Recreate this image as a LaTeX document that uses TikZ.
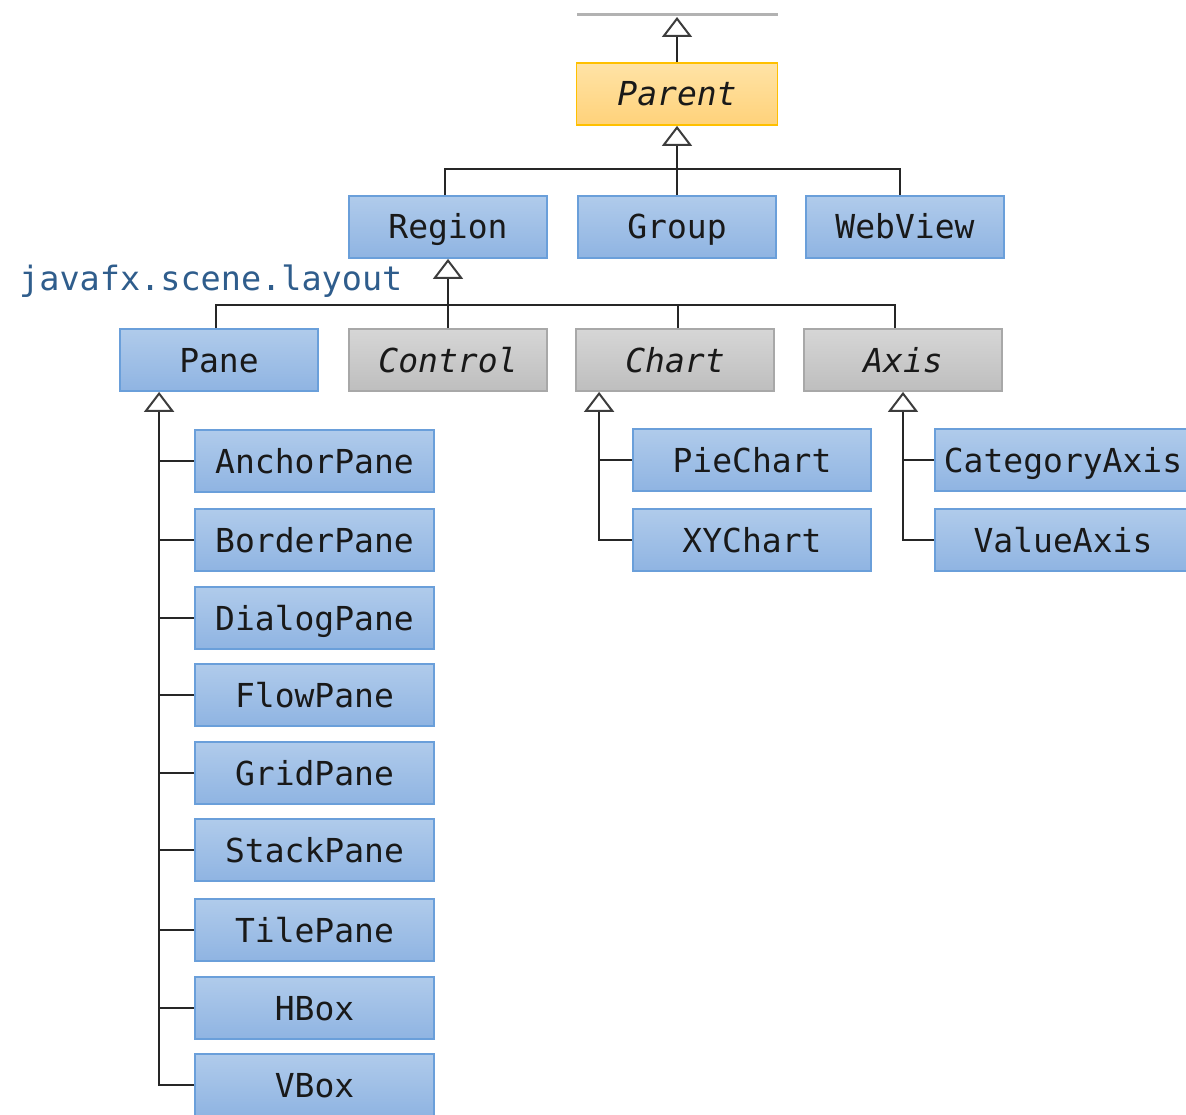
\documentclass[tikz,border=0pt]{standalone}
\usepackage{fontspec}
\setmonofont{DejaVu Sans Mono}
\usetikzlibrary{arrows.meta}
\definecolor{bluefillA}{HTML}{B0CBEB}
\definecolor{bluefillB}{HTML}{8FB4E2}
\definecolor{blueline}{HTML}{6A9FDA}
\definecolor{yelfillA}{HTML}{FFE3A6}
\definecolor{yelfillB}{HTML}{FFD27A}
\definecolor{yelline}{HTML}{FFC000}
\definecolor{grayfillA}{HTML}{D6D6D6}
\definecolor{grayfillB}{HTML}{BEBEBE}
\definecolor{grayline}{HTML}{A8A8A8}
\definecolor{pkgcol}{HTML}{2F5D8C}
\definecolor{tipcol}{HTML}{3C3C3C}
\tikzset{
  cls/.style={rectangle, inner sep=0pt, minimum height=62pt, line width=1.8pt,
    text height=24pt, text depth=0pt,
    font=\ttfamily\fontsize{33}{36}\selectfont, text=black!90},
  bluebox/.style={cls, draw=blueline, top color=bluefillA, bottom color=bluefillB},
  yelbox/.style={cls, draw=yelline, top color=yelfillA, bottom color=yelfillB,
    font=\ttfamily\itshape\fontsize{33}{36}\selectfont},
  graybox/.style={cls, draw=grayline, top color=grayfillA, bottom color=grayfillB,
    font=\ttfamily\itshape\fontsize{33}{36}\selectfont},
  conn/.style={line width=2pt, black!85},
  inh/.style={conn, -{Triangle[open, width=30pt, length=20pt, line width=2pt, color=tipcol]}},
}
\begin{document}
\begin{tikzpicture}[x=1pt,y=-1pt]
\useasboundingbox (0,0) rectangle (1186,1115);
\clip (0,0) rectangle (1186,1115);

% cut-off superclass line
\draw[line width=3pt, black!30] (577,15) -- (778,15);
\coordinate (top) at (677,17);

% level 1
\node[yelbox, minimum width=201pt] (parent) at (677,94) {Parent};

% level 2
\node[bluebox, minimum width=198pt] (region) at (448,227) {Region};
\node[bluebox, minimum width=198pt] (group) at (677,227) {Group};
\node[bluebox, minimum width=198pt] (webview) at (905,227) {WebView};

% package label
\node[anchor=west, inner sep=0pt, text=pkgcol, font=\ttfamily\fontsize{33.5}{36}\selectfont] (pkg) at (19,281) {javafx.scene.layout};

% level 3
\node[bluebox, minimum width=198pt] (pane) at (219,360) {Pane};
\node[graybox, minimum width=198pt] (control) at (448,360) {Control};
\node[graybox, minimum width=198pt] (chart) at (675,360) {Chart};
\node[graybox, minimum width=198pt] (axis) at (903,360) {Axis};

% pane children
\foreach \n/\t/\y in {anchor/AnchorPane/461, border/BorderPane/540, dialog/DialogPane/618,
  flow/FlowPane/695, grid/GridPane/773, stack/StackPane/850, tile/TilePane/930,
  hbox/HBox/1008, vbox/VBox/1085}{
  \node[bluebox, minimum width=239pt] (\n) at (314.5,\y) {\t};
}

% chart children
\node[bluebox, minimum width=238pt] (pie) at (752,460) {PieChart};
\node[bluebox, minimum width=238pt] (xy) at (752,540) {XYChart};

% axis children
\node[bluebox, minimum width=256pt] (cat) at (1063,460) {CategoryAxis};
\node[bluebox, minimum width=256pt] (val) at (1063,540) {ValueAxis};

% coordinates for busses
\coordinate (bus1) at (677,169);
\coordinate (bus2) at (448,305);
\coordinate (pv) at ([xshift=40pt]pane.south west);
\coordinate (cv) at ([xshift=24pt]chart.south west);
\coordinate (av) at (axis.south);

% connectors
\draw[inh] (parent.north) -- (top);
\draw[inh] (group.north) -- (parent.south);
\draw[conn] ([xshift=-3pt]region.north) |- (bus1) -| ([xshift=-5pt]webview.north);

\draw[inh] (control.north) -- (region.south);
\draw[conn] ([xshift=-3pt]pane.north) |- (bus2) -| ([xshift=-8pt]axis.north);
\draw[conn] ([xshift=3pt]chart.north) -- ([xshift=3pt]chart.north |- bus2);

\draw[inh] (vbox.west) -| (pv);
\foreach \n in {anchor,border,dialog,flow,grid,stack,tile,hbox}{
  \draw[conn] (\n.west) -- (\n.west -| pv);
}

\draw[inh] (xy.west) -| (cv);
\draw[conn] (pie.west) -- (pie.west -| cv);

\draw[inh] (val.west) -| (av);
\draw[conn] (cat.west) -- (cat.west -| av);
\end{tikzpicture}
\end{document}
